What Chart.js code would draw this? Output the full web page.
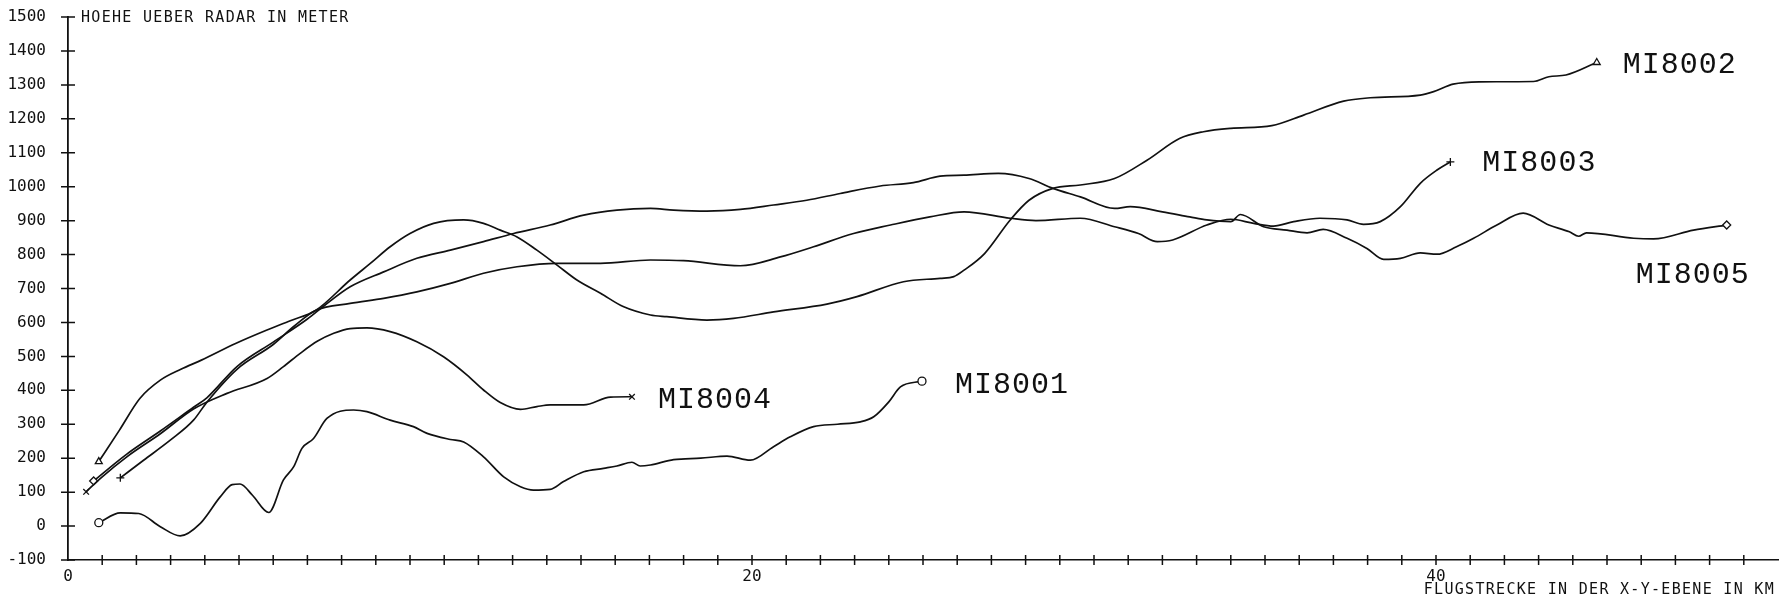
<!DOCTYPE html>
<html>
<head>
<meta charset="utf-8">
<script src="https://cdn.jsdelivr.net/npm/chart.js@4.4.1/dist/chart.umd.min.js"></script>
<style>
  html, body { margin: 0; padding: 0; background: #fff; }
</style>
</head>
<body>
<canvas id="flightChart" width="1787" height="604"></canvas>
<script>
// flight tracks: distance in the x-y plane (km) against height above radar (m)
const seriesNames = ['MI8001', 'MI8002', 'MI8003', 'MI8004', 'MI8005'];

const mi8001Km = [0.9, 1.53, 2.07, 2.7, 3.28, 3.87, 4.45, 4.8, 5.03, 5.4, 5.87, 6.3, 6.6, 6.84, 7.18, 7.57, 8.35, 8.74, 9.42, 10.1, 10.5, 11.18, 11.57, 12.15, 12.74, 13.23, 13.61, 14.1, 14.49, 15.08, 15.66, 16.05, 16.49, 16.73, 17.03, 17.71, 18.5, 19.27, 19.95, 20.63, 21.12, 21.8, 22.5, 23.17, 23.56, 24.0, 24.34, 24.97];
const mi8001H  = [10, 39, 37, -2, -29, 8, 86, 122, 124, 90, 40, 136, 175, 229, 258, 317, 342, 337, 312, 293, 273, 255, 248, 204, 145, 116, 106, 108, 131, 160, 170, 177, 188, 177, 180, 196, 200, 206, 194, 234, 263, 293, 300, 307, 322, 366, 410, 427];

const mi8002Km = [0.9, 1.5, 2.1, 2.7, 3.3, 3.9, 4.9, 5.8, 6.5, 7.25, 8.25, 8.84, 9.42, 10.0, 10.69, 11.57, 12.15, 12.64, 13.13, 13.71, 14.3, 14.88, 15.57, 16.25, 17.03, 17.51, 18.68, 19.46, 20.63, 22.19, 23.07, 24.43, 25.5, 25.9, 26.2, 26.8, 27.55, 28.1, 28.8, 29.6, 30.6, 31.55, 32.5, 33.2, 34.0, 35.2, 36.13, 37.3, 38.08, 39.54, 39.93, 40.5, 41.26, 42.85, 43.3, 43.8, 44.7];
const mi8002H  = [190, 282, 376, 430, 462, 489, 538, 577, 605, 636, 725, 774, 823, 862, 892, 902, 892, 872, 852, 813, 769, 725, 686, 646, 622, 617, 607, 612, 631, 654, 676, 720, 730, 735, 754, 803, 902, 960, 995, 1005, 1024, 1078, 1142, 1162, 1172, 1180, 1211, 1252, 1262, 1270, 1280, 1302, 1309, 1310, 1324, 1329, 1366];

const mi8003Km = [1.53, 2.21, 2.99, 3.67, 4.06, 4.94, 6.0, 6.6, 7.25, 8.25, 9.23, 10.2, 11.18, 12.15, 13.13, 14.3, 15.57, 17.03, 18.0, 19.66, 20.83, 21.8, 22.97, 24.05, 25.2, 26.2, 27.55, 28.3, 29.6, 30.6, 31.3, 31.85, 32.3, 33.3, 34.0, 34.67, 35.25, 35.84, 36.6, 37.4, 37.88, 38.37, 38.96, 39.54, 40.03, 40.42];
const mi8003H  = [142, 194, 253, 312, 365, 462, 535, 588, 636, 656, 671, 690, 715, 745, 764, 774, 774, 784, 782, 767, 793, 823, 862, 887, 911, 926, 907, 900, 907, 882, 862, 838, 843, 887, 904, 892, 884, 897, 907, 902, 889, 897, 941, 1010, 1049, 1073];

const mi8004Km = [0.53, 1.0, 1.72, 2.7, 3.67, 4.65, 5.82, 6.3, 6.79, 7.3, 7.77, 8.25, 8.74, 9.42, 10.2, 10.98, 11.67, 12.15, 12.64, 13.23, 13.71, 14.1, 15.08, 15.86, 16.49];
const mi8004H  = [101, 145, 204, 272, 345, 391, 435, 470, 509, 545, 568, 582, 584, 573, 543, 499, 445, 401, 364, 344, 352, 357, 357, 380, 381];

const mi8005Km = [0.75, 1.72, 2.7, 3.67, 4.06, 4.94, 6.0, 7.0, 7.5, 8.25, 9.23, 10.2, 11.18, 12.15, 13.03, 14.1, 15.08, 16.05, 17.03, 17.71, 18.68, 19.66, 20.63, 21.6, 22.58, 23.75, 24.72, 25.5, 26.2, 27.2, 28.1, 28.8, 29.6, 30.6, 31.06, 32.0, 32.8, 33.3, 34.0, 34.28, 34.96, 35.64, 36.23, 36.7, 37.4, 37.98, 38.47, 38.96, 39.54, 40.03, 40.6, 41.1, 41.78, 42.55, 43.3, 43.9, 44.17, 44.4, 45.78, 46.36, 47.53, 48.5];
const mi8005H  = [133, 212, 280, 350, 378, 470, 542, 610, 650, 705, 749, 789, 813, 838, 862, 887, 916, 931, 936, 931, 928, 933, 946, 960, 980, 1002, 1012, 1031, 1034, 1039, 1024, 995, 970, 936, 941, 926, 911, 902, 897, 918, 882, 872, 864, 874, 848, 818, 786, 789, 805, 801, 823, 848, 887, 922, 887, 867, 854, 864, 848, 846, 872, 887];

const kmTicks = [0, 1, 2, 3, 4, 5, 6, 7, 8, 9, 10, 11, 12, 13, 14, 15, 16, 17, 18, 19, 20, 21, 22, 23, 24, 25, 26, 27, 28, 29, 30, 31, 32, 33, 34, 35, 36, 37, 38, 39, 40, 41, 42, 43, 44, 45, 46, 47, 48, 49, 50];
const kmLabels = [0, 20, 40];
const heightTicks = [-100, 0, 100, 200, 300, 400, 500, 600, 700, 800, 900, 1000, 1100, 1200, 1300, 1400, 1500];

const kmData = [mi8001Km, mi8002Km, mi8003Km, mi8004Km, mi8005Km];
const heightData = [mi8001H, mi8002H, mi8003H, mi8004H, mi8005H];

const pointStyles = ['circle', 'triangle', 'cross', 'crossRot', 'rectRot'];
// where each name sits relative to the last point of its track (px)
const nameOffsets = [[33, 4], [26, 3], [32, 1], [26, 3], [-91, 50]];

const INK = '#111';
const PLOT_FONT = '"DejaVu Sans Mono", monospace';

const plotterMarks = {
  id: 'plotterMarks',
  afterDraw(chart) {
    const { ctx, scales: { x, y } } = chart;
    ctx.save();
    ctx.strokeStyle = INK;
    ctx.lineWidth = 1.5;
    ctx.beginPath();
    heightTicks.forEach((v) => {
      const py = y.getPixelForValue(v);
      ctx.moveTo(x.left - 7, py);
      ctx.lineTo(x.left + 7, py);
    });
    kmTicks.forEach((v) => {
      if (v === 0 || v === 50) return;
      const px = x.getPixelForValue(v);
      ctx.moveTo(px, y.bottom - 5);
      ctx.lineTo(px, y.bottom + 5);
    });
    ctx.stroke();

    ctx.fillStyle = INK;
    ctx.font = '15px ' + PLOT_FONT;
    ctx.letterSpacing = '1.3px';
    ctx.textBaseline = 'middle';
    ctx.textAlign = 'left';
    ctx.fillText('HOEHE UEBER RADAR IN METER', x.left + 13, y.getPixelForValue(1500) + 1);
    ctx.textAlign = 'right';
    ctx.fillText('FLUGSTRECKE IN DER X-Y-EBENE IN KM', x.right - 3, y.bottom + 30);

    ctx.font = '30px "Liberation Mono", monospace';
    ctx.letterSpacing = '1px';
    ctx.textAlign = 'left';
    chart.data.datasets.forEach((ds, i) => {
      const last = ds.data[ds.data.length - 1];
      const px = x.getPixelForValue(last.x);
      const py = y.getPixelForValue(last.y);
      ctx.fillText(ds.label, px + nameOffsets[i][0], py + nameOffsets[i][1]);
    });
    ctx.restore();
  }
};

const ctx = document.getElementById('flightChart').getContext('2d');

new Chart(ctx, {
  type: 'scatter',
  data: {
    datasets: seriesNames.map((name, i) => ({
      label: name,
      data: kmData[i].map((km, j) => ({ x: km, y: heightData[i][j] })),
      showLine: true,
      fill: false,
      borderColor: INK,
      borderWidth: 1.7,
      cubicInterpolationMode: 'monotone',
      pointStyle: pointStyles[i],
      pointRadius: (c) => (c.dataIndex === 0 || c.dataIndex === c.dataset.data.length - 1) ? 4 : 0,
      pointBackgroundColor: '#fff',
      pointBorderColor: INK,
      pointBorderWidth: 1.3
    }))
  },
  options: {
    responsive: false,
    animation: false,
    layout: {
      padding: { top: 17, right: 9, left: 0, bottom: 0 }
    },
    scales: {
      x: {
        type: 'linear',
        min: 0,
        max: 50,
        afterBuildTicks: (scale) => {
          scale.ticks = kmTicks.map((v) => ({ value: v }));
        },
        afterFit: (scale) => {
          scale.height = 44;
        },
        grid: { display: false },
        border: { display: true, color: INK, width: 1.6 },
        ticks: {
          autoSkip: false,
          maxRotation: 0,
          padding: -1,
          color: INK,
          font: { family: PLOT_FONT, size: 16 },
          callback: (value) => kmLabels.includes(value) ? String(value) : ''
        }
      },
      y: {
        min: -100,
        max: 1500,
        afterBuildTicks: (scale) => {
          scale.ticks = heightTicks.map((v) => ({ value: v }));
        },
        afterFit: (scale) => {
          // keep the label overhang from pushing the plot area down
          scale.width = 68;
          scale.paddingTop = 8;
          scale.paddingBottom = 8;
        },
        grid: { display: false },
        border: { display: true, color: INK, width: 1.8 },
        ticks: {
          padding: 14,
          color: INK,
          font: { family: PLOT_FONT, size: 16 },
          callback: (value) => String(value)
        }
      }
    },
    plugins: {
      legend: { display: false },
      tooltip: { enabled: false }
    }
  },
  plugins: [plotterMarks]
});
</script>
</body>
</html>
